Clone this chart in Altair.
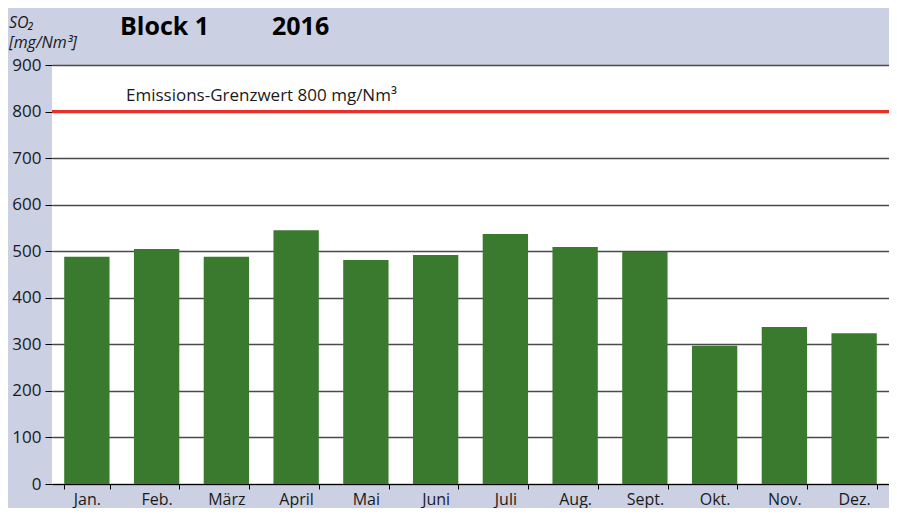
import altair as alt
import pandas as pd

months = ["Jan.", "Feb.", "März", "April", "Mai", "Juni", "Juli", "Aug.", "Sept.", "Okt.", "Nov.", "Dez."]
so2 = [488, 505, 488, 545, 481, 492, 537, 509, 499, 297, 337, 324]
limit_value = [800]
limit_label = ["Emissions-Grenzwert 800 mg/Nm³"]
title_parts = ["Block 1", "2016"]
y_title_lines = ["SO₂", "[mg/Nm³]"]

FONT = "Open Sans"
BG = "#CBD0E3"

df = pd.DataFrame({"month": months, "value": so2})
lim = pd.DataFrame({"v": limit_value, "label": limit_label})

x = alt.X("month:N", sort=months, title=None,
          scale=alt.Scale(paddingInner=0.35, paddingOuter=0.175),
          axis=alt.Axis(labelAngle=0, labelFontSize=16, labelColor="#1a1a1a",
                        labelFont=FONT, labelPadding=2, tickBand="extent",
                        tickSize=5, tickColor="#000", domainColor="#000",
                        domainWidth=1.2, grid=False))
y = alt.Y("value:Q", title=None,
          scale=alt.Scale(domain=[0, 900], nice=False),
          axis=alt.Axis(values=list(range(0, 901, 100)), labelFontSize=17,
                        labelFont=FONT, labelColor="#1a1a1a", tickSize=7,
                        tickColor="#000", labelPadding=4, domain=False,
                        gridColor="#4a4a4a", gridWidth=1.5))

bars = alt.Chart(df).mark_bar(color="#3A7A2E").encode(x=x, y=y)

rule = alt.Chart(lim).mark_rule(color="#E8302A", strokeWidth=3).encode(
    y=alt.Y("v:Q", scale=alt.Scale(domain=[0, 900], nice=False)))

rule_text = alt.Chart(lim).mark_text(align="left", baseline="alphabetic", fontSize=17,
                                     font=FONT, color="#1a1a1a", dy=-11).encode(
    x=alt.value(74), y=alt.Y("v:Q", scale=alt.Scale(domain=[0, 900], nice=False)),
    text="label:N")

title_df = pd.DataFrame({"t": title_parts, "px": [68, 220]})
title = alt.Chart(title_df).mark_text(align="left", baseline="alphabetic", fontSize=25,
                                      fontWeight="bold", font=FONT, color="#000").encode(
    x=alt.X("px:Q", scale=None), y=alt.value(-30), text="t:N")

ytitle_df = pd.DataFrame({"t": y_title_lines, "py": [-37, -17]})
ytitle = alt.Chart(ytitle_df).mark_text(align="left", baseline="alphabetic", fontSize=16,
                                        fontStyle="italic", font=FONT, color="#1a1a1a").encode(
    x=alt.value(-43), y=alt.Y("py:Q", scale=None), text="t:N")

chart = alt.layer(bars, rule, rule_text, title, ytitle).properties(
    width=837, height=419,
    padding={"left": 44, "top": 57, "right": 0, "bottom": 24},
    autosize=alt.AutoSizeParams(type="none"),
    background=BG,
).configure_view(fill="white", stroke=None)

chart.save("out.html", embed_options={"renderer": "svg", "actions": False})
